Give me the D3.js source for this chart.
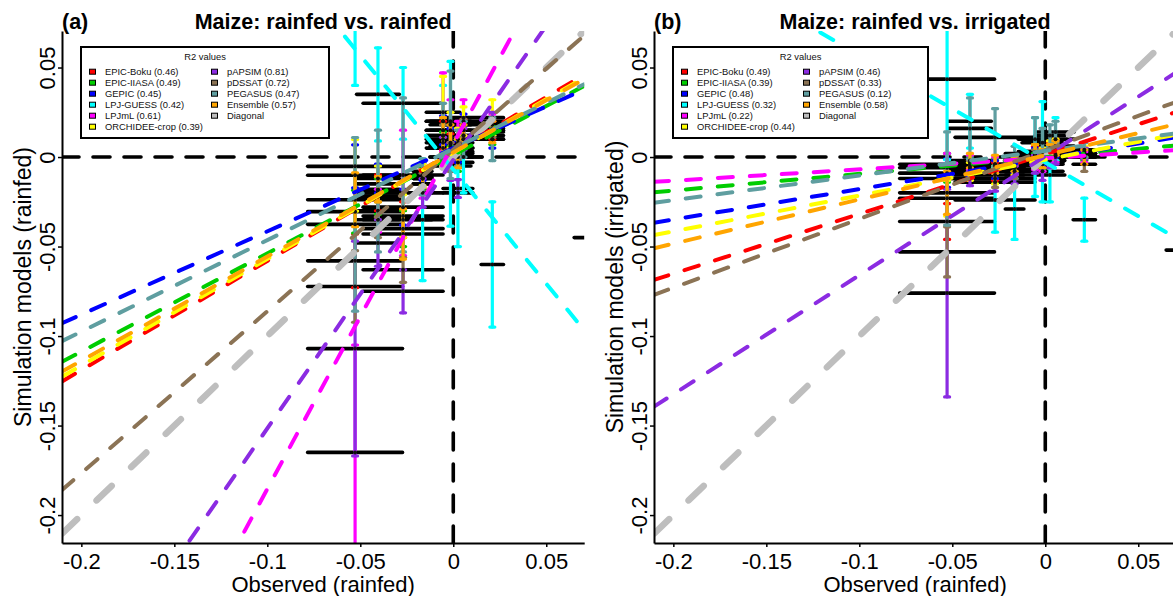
<!DOCTYPE html>
<html>
<head>
<meta charset="utf-8">
<script src="https://cdn.jsdelivr.net/npm/d3@7"></script>
<style>
  body { margin: 0; background: #fff; }
  svg text { font-family: "Liberation Sans", Arial, Helvetica, sans-serif; }
</style>
</head>
<body>
<svg id="chart" width="1173" height="596"></svg>
<script>
// models in legend order
const models = ["EPIC-Boku", "EPIC-IIASA", "GEPIC", "LPJ-GUESS", "LPJmL", "ORCHIDEE-crop",
  "pAPSIM", "pDSSAT", "PEGASUS", "Ensemble"];
const modelColors = ["#FF0000", "#00CD00", "#0000FF", "#00FFFF", "#FF00FF", "#FFFF00",
  "#8B2BE2", "#8B7355", "#5F9EA0", "#FFA500"];
const diagColor = "#BEBEBE";

const r2Rainfed = [0.46, 0.49, 0.45, 0.42, 0.61, 0.39, 0.81, 0.72, 0.47, 0.57];
const r2Irrigated = [0.49, 0.39, 0.48, 0.32, 0.22, 0.44, 0.46, 0.33, 0.12, 0.58];

// observed (rainfed) values and half width of their error bars
const obsX = [-0.0528, -0.0405, -0.027, -0.0165, -0.0055, -0.0015, 0.0025, 0.0055, 0.021, 0.078];
const obsErr = [0.0255, 0.0115, 0.0215, 0.005, 0.009, 0.011, 0.008, 0.01, 0.006, 0.013];

// simulated values: one row per model, one column per observation
const simRainfed = [
  [-0.058, -0.020, -0.035, -0.012, 0.012, 0.005, 0.000, 0.015, 0.015, null],
  [-0.0305, -0.022, -0.040, -0.012, 0.008, 0.000, -0.003, 0.012, 0.012, null],
  [-0.0052, -0.012, -0.028, -0.008, 0.015, 0.008, 0.003, 0.018, 0.010, null],
  [0.090, 0.035, 0.030, -0.035, 0.020, 0.0074, -0.020, 0.000, -0.060, -0.045],
  [-0.165, -0.030, -0.020, -0.015, 0.025, 0.020, 0.010, 0.022, 0.018, null],
  [-0.0102, -0.015, -0.033, -0.010, 0.020, 0.015, 0.008, 0.020, 0.022, null],
  [-0.107, -0.048, -0.075, -0.020, 0.005, -0.005, -0.0176, 0.010, 0.020, null],
  [-0.0723, -0.035, -0.063, -0.015, 0.010, 0.000, 0.005, 0.015, 0.016, null],
  [-0.0376, -0.019, -0.010, -0.011, 0.015, 0.018, 0.005, 0.010, 0.010, null],
  [-0.0239, -0.018, -0.043, -0.012, 0.012, 0.006, 0.002, 0.012, 0.014, null]
];
const sdRainfed = [
  [0.015, 0.010, 0.010, 0.006, 0.008, 0.008, 0.006, 0.006, 0.005, null],
  [0.012, 0.010, 0.010, 0.006, 0.006, 0.006, 0.005, 0.006, 0.005, null],
  [0.012, 0.008, 0.010, 0.005, 0.008, 0.008, 0.006, 0.006, 0.005, null],
  [0.050, 0.026, 0.020, 0.034, 0.020, 0.046, 0.030, 0.020, 0.035, 0.020],
  [0.060, 0.012, 0.035, 0.008, 0.022, 0.012, 0.010, 0.010, 0.006, null],
  [0.020, 0.010, 0.012, 0.006, 0.025, 0.010, 0.008, 0.008, 0.010, null],
  [0.060, 0.013, 0.012, 0.008, 0.006, 0.008, 0.005, 0.006, 0.005, null],
  [0.020, 0.010, 0.007, 0.006, 0.008, 0.008, 0.006, 0.006, 0.005, null],
  [0.0485, 0.034, 0.043, 0.010, 0.015, 0.030, 0.010, 0.010, 0.012, null],
  [0.015, 0.007, 0.014, 0.005, 0.010, 0.012, 0.008, 0.006, 0.006, null]
];
const simIrrigated = [
  [-0.036, -0.005, -0.008, -0.006, 0.002, 0.000, 0.004, 0.006, 0.002, null],
  [-0.006, -0.004, -0.005, -0.004, -0.002, -0.003, 0.001, 0.002, 0.001, null],
  [-0.009, -0.006, -0.007, -0.005, 0.001, -0.001, 0.003, 0.004, 0.002, null],
  [0.0435, 0.020, -0.024, -0.029, 0.000, 0.003, -0.010, 0.010, -0.035, -0.052],
  [-0.004, -0.003, -0.004, -0.002, -0.003, -0.004, 0.000, 0.001, 0.000, null],
  [-0.023, -0.008, -0.010, -0.006, 0.003, 0.001, 0.005, 0.006, 0.003, null],
  [-0.076, -0.012, -0.014, -0.010, -0.004, -0.008, -0.002, 0.000, 0.002, null],
  [-0.053, -0.007, -0.012, -0.008, 0.000, -0.002, 0.003, 0.005, -0.004, null],
  [-0.012, 0.016, 0.011, 0.002, 0.010, 0.008, 0.012, 0.014, 0.004, null],
  [-0.020, -0.002, -0.004, -0.004, 0.002, -0.001, 0.003, 0.005, 0.000, null]
];
const sdIrrigated = [
  [0.010, 0.005, 0.005, 0.004, 0.004, 0.004, 0.004, 0.004, 0.003, null],
  [0.008, 0.004, 0.004, 0.004, 0.004, 0.004, 0.004, 0.004, 0.003, null],
  [0.008, 0.005, 0.005, 0.004, 0.004, 0.004, 0.004, 0.004, 0.003, null],
  [0.045, 0.015, 0.018, 0.017, 0.022, 0.028, 0.015, 0.012, 0.012, 0.020],
  [0.006, 0.004, 0.004, 0.003, 0.004, 0.004, 0.004, 0.004, 0.003, null],
  [0.010, 0.005, 0.005, 0.004, 0.004, 0.004, 0.004, 0.004, 0.003, null],
  [0.058, 0.004, 0.005, 0.005, 0.005, 0.005, 0.004, 0.004, 0.003, null],
  [0.014, 0.005, 0.005, 0.004, 0.004, 0.004, 0.004, 0.004, 0.004, null],
  [0.026, 0.017, 0.016, 0.004, 0.012, 0.008, 0.006, 0.006, 0.004, null],
  [0.012, 0.004, 0.005, 0.004, 0.005, 0.005, 0.004, 0.004, 0.004, null]
];

// fitted regression lines (intercept, slope) per model
const interceptRainfed = [0.0030, 0.0011, 0.0050, -0.0070, 0.0072, 0.0025, -0.0016, 0.0042, 0.0047, 0.0026];
const slopeRainfed = [0.610, 0.549, 0.465, -1.275, 1.926, 0.595, 1.500, 0.904, 0.511, 0.582];
const interceptIrrigated = [0.0016, -0.0001, -0.0009, -0.0030, -0.0006, -0.0015, 0.0005, 0.0038, 0.0035, 0.0010];
const slopeIrrigated = [0.334, 0.093, 0.170, -0.600, 0.063, 0.200, 0.665, 0.384, 0.138, 0.247];

const xTicks = [-0.2, -0.15, -0.1, -0.05, 0, 0.05];
const yTicks = [-0.2, -0.15, -0.1, -0.05, 0, 0.05];

const svg = d3.select("#chart");
const defs = svg.append("defs");

const plotW = 522.2;
const plotTop = 31;
const plotBottom = 543;
const xDomain = [-0.2104, 0.0704];
const yDomain = [-0.2156, 0.0704];

function fmt(d) {
  return d === 0 ? "0" : String(d);
}

function drawPanel(p) {
  const left = p.left;
  const x = d3.scaleLinear().domain(xDomain).range([left, left + plotW]);
  const y = d3.scaleLinear().domain(yDomain).range([plotBottom, plotTop]);

  const g = svg.append("g");

  defs.append("clipPath").attr("id", "clip-" + p.tag)
    .append("rect")
    .attr("x", left).attr("y", plotTop)
    .attr("width", plotW).attr("height", plotBottom - plotTop);

  const plot = g.append("g").attr("clip-path", "url(#clip-" + p.tag + ")");

  // dashed zero lines
  plot.append("line")
    .attr("x1", x(xDomain[0])).attr("x2", x(xDomain[1]))
    .attr("y1", y(0)).attr("y2", y(0))
    .attr("stroke", "#000").attr("stroke-width", 3.6)
    .attr("stroke-dasharray", "17,14").attr("stroke-linecap", "round");
  plot.append("line")
    .attr("x1", x(0)).attr("x2", x(0))
    .attr("y1", y(yDomain[0])).attr("y2", y(yDomain[1]))
    .attr("stroke", "#000").attr("stroke-width", 3.6)
    .attr("stroke-dasharray", "17,14").attr("stroke-linecap", "round");

  // one record per model and observation
  const pts = [];
  p.sim.forEach(function (row, m) {
    row.forEach(function (v, i) {
      if (v !== null) pts.push({ m: m, i: i, v: v, sd: p.sd[m][i] });
    });
  });

  // observation uncertainty (black, horizontal)
  plot.append("g").selectAll("line")
    .data(pts)
    .join("line")
    .attr("x1", d => x(obsX[d.i] - obsErr[d.i]))
    .attr("x2", d => x(obsX[d.i] + obsErr[d.i]))
    .attr("y1", d => y(d.v))
    .attr("y2", d => y(d.v))
    .attr("stroke", "#000")
    .attr("stroke-width", 3.6)
    .attr("stroke-linecap", "round");

  // model spread (coloured, vertical) with small caps
  const vbars = plot.append("g").selectAll("g")
    .data(pts)
    .join("g")
    .attr("stroke", d => modelColors[d.m])
    .attr("stroke-width", 3.2)
    .attr("stroke-linecap", "round");
  vbars.append("line")
    .attr("x1", d => x(obsX[d.i])).attr("x2", d => x(obsX[d.i]))
    .attr("y1", d => y(d.v - d.sd)).attr("y2", d => y(d.v + d.sd));
  vbars.append("line")
    .attr("x1", d => x(obsX[d.i]) - 2.5).attr("x2", d => x(obsX[d.i]) + 2.5)
    .attr("y1", d => y(d.v + d.sd)).attr("y2", d => y(d.v + d.sd));
  vbars.append("line")
    .attr("x1", d => x(obsX[d.i]) - 2.5).attr("x2", d => x(obsX[d.i]) + 2.5)
    .attr("y1", d => y(d.v - d.sd)).attr("y2", d => y(d.v - d.sd));

  plot.append("g").selectAll("circle")
    .data(pts)
    .join("circle")
    .attr("cx", d => x(obsX[d.i]))
    .attr("cy", d => y(d.v))
    .attr("r", 2)
    .attr("fill", "#111");

  // 1:1 diagonal
  plot.append("line")
    .attr("x1", x(xDomain[0])).attr("y1", y(xDomain[0]))
    .attr("x2", x(xDomain[1])).attr("y2", y(xDomain[1]))
    .attr("stroke", diagColor).attr("stroke-width", 6.5)
    .attr("stroke-dasharray", "21,27").attr("stroke-linecap", "round");

  // regression line for each model
  const fits = models.map(function (name, m) {
    return { m: m, a: p.icpt[m], b: p.slope[m] };
  });
  plot.append("g").selectAll("line")
    .data(fits)
    .join("line")
    .attr("x1", x(xDomain[0]))
    .attr("x2", x(xDomain[1]))
    .attr("y1", d => y(d.a + d.b * xDomain[0]))
    .attr("y2", d => y(d.a + d.b * xDomain[1]))
    .attr("stroke", d => modelColors[d.m])
    .attr("stroke-width", 4)
    .attr("stroke-dasharray", "15,17")
    .attr("stroke-linecap", "round");

  // axes (L shaped box)
  const xAxis = d3.axisBottom(x).tickValues(xTicks).tickFormat(fmt)
    .tickSize(4).tickSizeOuter(0).tickPadding(6);
  const gx = g.append("g").attr("transform", "translate(0," + plotBottom + ")").call(xAxis);
  gx.attr("font-family", null);
  gx.select(".domain").attr("stroke-width", 2);
  gx.selectAll(".tick line").attr("stroke-width", 1.5);
  gx.selectAll("text").attr("font-size", 22).attr("fill", "#000");

  const yAxis = d3.axisLeft(y).tickValues(yTicks).tickFormat(fmt)
    .tickSize(4).tickSizeOuter(0);
  const gy = g.append("g").attr("transform", "translate(" + left + ",0)").call(yAxis);
  gy.attr("font-family", null);
  gy.select(".domain").attr("stroke-width", 2);
  gy.selectAll(".tick line").attr("stroke-width", 1.5);
  gy.selectAll("text")
    .attr("x", 0).attr("dy", 0)
    .attr("text-anchor", "middle")
    .attr("transform", "translate(-7,0) rotate(-90)")
    .attr("font-size", 22).attr("fill", "#000");

  // axis titles
  g.append("text")
    .attr("x", left + plotW / 2).attr("y", 592)
    .attr("text-anchor", "middle").attr("font-size", 22)
    .text("Observed (rainfed)");
  g.append("text")
    .attr("transform", "translate(" + (left - 31) + "," + ((plotTop + plotBottom) / 2) + ") rotate(-90)")
    .attr("text-anchor", "middle").attr("font-size", 23)
    .text(p.yTitle);

  // panel label and title
  g.append("text")
    .attr("x", left).attr("y", 29)
    .attr("font-size", 21.5).attr("font-weight", "bold")
    .text(p.label);
  g.append("text")
    .attr("x", left + plotW / 2).attr("y", 29)
    .attr("text-anchor", "middle")
    .attr("font-size", 21.5).attr("font-weight", "bold")
    .text(p.title);

  // legend
  const lx = left + 19;
  const ly = 47;
  const leg = g.append("g");
  leg.append("rect")
    .attr("x", lx).attr("y", ly)
    .attr("width", p.legendW).attr("height", 91)
    .attr("fill", "#fff").attr("stroke", "#000").attr("stroke-width", 2);
  leg.append("text")
    .attr("x", lx + p.legendW / 2).attr("y", ly + 12.5)
    .attr("text-anchor", "middle").attr("font-size", 9.4).attr("fill", "#111")
    .text("R2 values");

  const entries = models.map(function (name, m) {
    return { label: name + " (" + p.r2[m].toFixed(2) + ")", color: modelColors[m] };
  });
  entries.push({ label: "Diagonal", color: diagColor });

  const items = leg.selectAll("g.item")
    .data(entries)
    .join("g")
    .attr("class", "item")
    .attr("transform", function (d, k) {
      const col = k < 6 ? 0 : 1;
      const row = k < 6 ? k : k - 6;
      return "translate(" + (lx + col * 122) + "," + (ly + 24.7 + row * 11) + ")";
    });
  items.append("rect")
    .attr("x", 8.5).attr("y", -2.5)
    .attr("width", 6).attr("height", 5)
    .attr("fill", d => d.color).attr("stroke", "#000").attr("stroke-width", 1);
  items.append("text")
    .attr("x", 24).attr("y", 3.4)
    .attr("font-size", 9.4).attr("fill", "#111")
    .text(d => d.label);
}

drawPanel({
  tag: "a", left: 62, label: "(a)", title: "Maize: rainfed vs. rainfed",
  yTitle: "Simulation models (rainfed)",
  sim: simRainfed, sd: sdRainfed,
  icpt: interceptRainfed, slope: slopeRainfed,
  r2: r2Rainfed, legendW: 248
});

drawPanel({
  tag: "b", left: 654, label: "(b)", title: "Maize: rainfed vs. irrigated",
  yTitle: "Simulation models (irrigated)",
  sim: simIrrigated, sd: sdIrrigated,
  icpt: interceptIrrigated, slope: slopeIrrigated,
  r2: r2Irrigated, legendW: 255
});
</script>
</body>
</html>
